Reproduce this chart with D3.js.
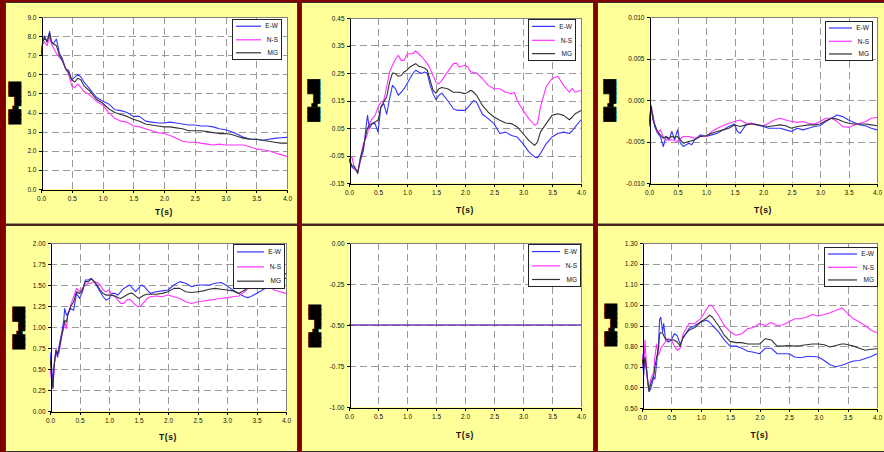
<!DOCTYPE html>
<html><head><meta charset="utf-8">
<script src="https://cdn.jsdelivr.net/npm/d3@7"></script>
<style>html,body{margin:0;padding:0;background:#800000;} svg{display:block}</style>
</head><body>
<svg id="c" width="884" height="452"></svg>
<script>
// ---------- data ----------
const xTicks = [0,0.5,1,1.5,2,2.5,3,3.5,4];
const seriesNames = ["E-W","N-S","MG"];
const xTitle = "T(s)";
const yLabelText = "███▪▄▄███";

const yTicks1 = [0,1,2,3,4,5,6,7,8,9];
const t1 = [0,0.03,0.06,0.1,0.14,0.17,0.2,0.25,0.3,0.35,0.4,0.45,0.5,0.55,0.6,0.65,0.7,0.8,0.9,1.0,1.1,1.2,1.3,1.4,1.5,1.6,1.7,1.8,1.9,2.0,2.1,2.2,2.3,2.4,2.5,2.6,2.7,2.8,2.9,3.0,3.1,3.2,3.3,3.4,3.5,3.6,3.7,3.8,3.9,4.0];
const ew1 = [7.0,7.8,8.0,7.7,8.25,7.7,7.6,7.85,7.1,6.8,6.3,6.2,5.7,5.85,6.0,5.85,5.6,5.2,4.8,4.6,4.45,4.15,4.1,4.0,3.8,3.8,3.55,3.5,3.45,3.45,3.5,3.45,3.4,3.35,3.35,3.3,3.3,3.25,3.15,3.1,3.0,2.85,2.7,2.62,2.6,2.55,2.6,2.65,2.68,2.7];
const ns1 = [7.0,7.6,7.7,7.5,8.0,7.6,7.4,7.1,6.9,6.7,6.3,6.0,5.4,5.3,5.5,5.3,5.1,4.9,4.6,4.4,4.0,3.7,3.55,3.5,3.3,3.25,3.15,3.05,2.95,2.9,2.8,2.65,2.5,2.45,2.45,2.4,2.35,2.3,2.35,2.3,2.3,2.3,2.3,2.2,2.1,2.05,2.0,1.9,1.8,1.7];
const mg1 = [7.0,7.7,7.9,7.7,8.15,7.7,7.6,7.5,7.0,6.7,6.3,6.1,5.7,5.6,5.8,5.7,5.4,5.1,4.7,4.5,4.2,4.0,3.9,3.8,3.65,3.55,3.4,3.35,3.3,3.25,3.25,3.2,3.15,3.05,3.05,3.05,3.0,2.95,2.9,2.9,2.85,2.75,2.65,2.6,2.6,2.55,2.5,2.45,2.4,2.4];

const yTicks2 = [-0.15,-0.05,0.05,0.15,0.25,0.35,0.45];
const t2 = [0,0.05,0.1,0.15,0.2,0.25,0.3,0.32,0.35,0.4,0.45,0.5,0.55,0.6,0.65,0.7,0.75,0.8,0.85,0.9,0.95,1.0,1.05,1.1,1.15,1.2,1.25,1.3,1.35,1.4,1.45,1.5,1.55,1.6,1.7,1.8,1.85,1.9,2.0,2.05,2.1,2.15,2.2,2.3,2.4,2.5,2.6,2.7,2.8,2.85,2.9,3.0,3.1,3.2,3.25,3.3,3.4,3.5,3.6,3.7,3.8,3.85,3.9,4.0];
const ew2 = [-0.067,-0.092,-0.10,-0.11,-0.067,-0.03,0.066,0.096,0.047,0.066,0.066,0.035,0.126,0.138,0.10,0.157,0.205,0.193,0.169,0.18,0.193,0.211,0.23,0.248,0.26,0.254,0.248,0.254,0.248,0.205,0.175,0.153,0.169,0.177,0.15,0.12,0.115,0.114,0.114,0.125,0.138,0.15,0.144,0.10,0.084,0.066,0.03,0.035,0.023,0.02,0.017,-0.007,-0.037,-0.055,-0.058,-0.043,-0.007,0.017,0.03,0.035,0.03,0.04,0.054,0.08];
const ns2 = [-0.065,-0.055,-0.10,-0.11,-0.055,-0.005,0.017,0.03,0.066,0.084,0.096,0.126,0.145,0.15,0.20,0.254,0.278,0.30,0.314,0.296,0.296,0.318,0.32,0.32,0.33,0.32,0.31,0.298,0.284,0.266,0.24,0.217,0.21,0.223,0.254,0.284,0.286,0.272,0.278,0.272,0.254,0.252,0.25,0.23,0.205,0.193,0.193,0.18,0.175,0.18,0.15,0.114,0.084,0.06,0.066,0.126,0.20,0.23,0.238,0.205,0.18,0.193,0.18,0.187];
const mg2 = [-0.062,-0.086,-0.092,-0.116,-0.055,-0.019,0.035,0.05,0.06,0.066,0.072,0.078,0.126,0.145,0.163,0.217,0.25,0.248,0.238,0.241,0.254,0.26,0.272,0.278,0.284,0.275,0.272,0.268,0.26,0.223,0.187,0.177,0.193,0.197,0.193,0.18,0.18,0.18,0.175,0.18,0.187,0.18,0.169,0.132,0.108,0.09,0.078,0.068,0.066,0.06,0.054,0.03,0.005,-0.013,-0.001,0.035,0.066,0.096,0.102,0.096,0.08,0.09,0.102,0.114];

const yTicks3 = [-0.01,-0.005,0,0.005,0.01];
const t3 = [0,0.04,0.07,0.1,0.15,0.2,0.25,0.3,0.35,0.4,0.45,0.5,0.55,0.6,0.7,0.75,0.8,0.9,1.0,1.1,1.2,1.3,1.4,1.5,1.55,1.6,1.7,1.8,1.9,2.0,2.1,2.2,2.3,2.4,2.5,2.6,2.7,2.8,2.9,3.0,3.1,3.2,3.3,3.4,3.5,3.6,3.7,3.8,3.9,4.0];
const ew3 = [-0.0032,-0.0012,-0.0018,-0.0032,-0.004,-0.0044,-0.0056,-0.0044,-0.0048,-0.0038,-0.0048,-0.0036,-0.0052,-0.0056,-0.0052,-0.0054,-0.0048,-0.0042,-0.0044,-0.0042,-0.004,-0.0036,-0.0032,-0.0029,-0.0038,-0.004,-0.003,-0.0028,-0.003,-0.0032,-0.0034,-0.0034,-0.0034,-0.0036,-0.0038,-0.0034,-0.0036,-0.0034,-0.0032,-0.0031,-0.0026,-0.0022,-0.0018,-0.002,-0.0024,-0.0027,-0.003,-0.0031,-0.0034,-0.0036];
const ns3 = [-0.0024,-0.0006,-0.0024,-0.0028,-0.004,-0.0036,-0.0044,-0.0048,-0.0048,-0.0048,-0.0049,-0.005,-0.0047,-0.0044,-0.0044,-0.0045,-0.0046,-0.0044,-0.0044,-0.0038,-0.0034,-0.0031,-0.0028,-0.0026,-0.0025,-0.0024,-0.0028,-0.0028,-0.003,-0.0031,-0.0028,-0.0024,-0.0022,-0.0024,-0.0026,-0.0027,-0.0026,-0.0028,-0.0029,-0.0026,-0.0022,-0.0022,-0.0026,-0.0032,-0.0033,-0.003,-0.0028,-0.0026,-0.0022,-0.0021];
const mg3 = [-0.0028,-0.0008,-0.0024,-0.003,-0.0038,-0.0042,-0.0046,-0.0044,-0.0046,-0.0044,-0.0045,-0.0044,-0.0048,-0.0052,-0.005,-0.0049,-0.0048,-0.0044,-0.0043,-0.004,-0.0038,-0.0036,-0.0034,-0.003,-0.0031,-0.0032,-0.003,-0.0029,-0.003,-0.0031,-0.0032,-0.0031,-0.003,-0.0031,-0.0034,-0.0032,-0.0031,-0.003,-0.003,-0.0029,-0.0025,-0.0022,-0.0023,-0.0026,-0.0028,-0.0029,-0.0029,-0.0029,-0.003,-0.0031];

const yTicks4 = [0,0.25,0.5,0.75,1,1.25,1.5,1.75,2];
const t4 = [0,0.03,0.05,0.07,0.1,0.13,0.15,0.2,0.23,0.25,0.28,0.3,0.35,0.4,0.45,0.5,0.55,0.6,0.65,0.7,0.75,0.8,0.85,0.9,0.95,1.0,1.05,1.1,1.15,1.2,1.25,1.3,1.35,1.4,1.45,1.5,1.55,1.6,1.65,1.7,1.8,1.9,2.0,2.1,2.2,2.3,2.4,2.5,2.6,2.7,2.8,2.9,3.0,3.1,3.2,3.3,3.35,3.4,3.5,3.6,3.7,3.8,3.9,4.0];
const ew4 = [0.70,0.50,0.35,0.54,0.70,0.64,0.76,0.94,1.06,1.22,1.14,1.16,1.22,1.20,1.40,1.34,1.42,1.56,1.56,1.58,1.54,1.48,1.42,1.36,1.32,1.34,1.40,1.40,1.38,1.42,1.46,1.48,1.50,1.46,1.42,1.46,1.50,1.48,1.44,1.40,1.42,1.43,1.44,1.50,1.54,1.52,1.48,1.50,1.50,1.50,1.52,1.53,1.49,1.44,1.40,1.36,1.35,1.36,1.40,1.44,1.48,1.52,1.58,1.64];
const ns4 = [0.50,0.35,0.27,0.54,0.74,0.70,0.68,0.90,0.98,1.06,0.98,1.14,1.26,1.36,1.46,1.42,1.46,1.50,1.52,1.52,1.54,1.53,1.50,1.44,1.42,1.44,1.38,1.36,1.32,1.28,1.28,1.32,1.33,1.30,1.26,1.24,1.26,1.30,1.34,1.36,1.37,1.36,1.38,1.36,1.34,1.30,1.28,1.30,1.31,1.32,1.33,1.34,1.35,1.36,1.37,1.42,1.45,1.48,1.52,1.54,1.50,1.44,1.42,1.40];
const mg4 = [0.62,0.42,0.27,0.54,0.72,0.68,0.72,0.90,1.00,1.08,1.06,1.14,1.24,1.30,1.42,1.40,1.44,1.54,1.54,1.57,1.54,1.50,1.44,1.40,1.38,1.38,1.38,1.37,1.35,1.34,1.36,1.38,1.40,1.40,1.37,1.34,1.36,1.38,1.39,1.39,1.39,1.40,1.42,1.46,1.46,1.42,1.41,1.42,1.43,1.45,1.46,1.45,1.44,1.43,1.40,1.44,1.47,1.49,1.52,1.53,1.54,1.54,1.56,1.58];

const yTicks5 = [-1,-0.75,-0.5,-0.25,0];
const t5 = [0,4];
const ew5 = [-0.5,-0.5];
const ns5 = [-0.5,-0.5];
const mg5 = [-0.5,-0.5];

const yTicks6 = [0.5,0.6,0.7,0.8,0.9,1.0,1.1,1.2,1.3];
const t6 = [0,0.03,0.05,0.08,0.1,0.12,0.15,0.2,0.22,0.25,0.28,0.3,0.32,0.35,0.37,0.4,0.45,0.5,0.55,0.6,0.65,0.7,0.8,0.9,1.0,1.1,1.15,1.2,1.3,1.4,1.5,1.6,1.7,1.8,1.9,2.0,2.1,2.2,2.3,2.4,2.5,2.6,2.7,2.8,2.9,3.0,3.1,3.2,3.3,3.4,3.45,3.5,3.6,3.7,3.8,3.9,4.0];
const ew6 = [0.763,0.66,0.74,0.675,0.626,0.58,0.594,0.65,0.64,0.72,0.80,0.93,0.94,0.87,0.91,0.83,0.82,0.83,0.86,0.85,0.81,0.84,0.885,0.90,0.917,0.925,0.917,0.90,0.87,0.83,0.80,0.80,0.79,0.775,0.77,0.763,0.79,0.79,0.763,0.763,0.763,0.747,0.744,0.75,0.75,0.747,0.73,0.71,0.70,0.707,0.712,0.718,0.728,0.73,0.74,0.75,0.763];
const ns6 = [0.755,0.69,0.83,0.69,0.61,0.594,0.64,0.675,0.75,0.81,0.755,0.77,0.79,0.80,0.81,0.82,0.836,0.83,0.80,0.78,0.79,0.86,0.91,0.91,0.933,0.98,0.998,0.993,0.95,0.90,0.87,0.853,0.86,0.885,0.89,0.91,0.90,0.914,0.90,0.904,0.917,0.933,0.933,0.94,0.953,0.946,0.953,0.962,0.973,0.985,0.973,0.957,0.933,0.917,0.90,0.877,0.865];
const mg6 = [0.74,0.70,0.747,0.68,0.626,0.58,0.618,0.658,0.70,0.747,0.79,0.86,0.865,0.865,0.85,0.836,0.83,0.83,0.83,0.82,0.80,0.845,0.877,0.89,0.917,0.936,0.95,0.94,0.90,0.853,0.823,0.817,0.817,0.81,0.81,0.81,0.836,0.83,0.80,0.80,0.803,0.80,0.803,0.807,0.81,0.81,0.807,0.796,0.803,0.81,0.81,0.807,0.80,0.79,0.78,0.785,0.787];

// ---------- layout / style ----------
const colors = ["#3434ff","#ff33ff","#333333"];
const panels = [
  {t:t1, s:[ew1,ns1,mg1], dom:[0,9], ticks:yTicks1, fmt:".1f", box:[5.5,2.5,297.5,224], plot:[41,17,287,189], titleY:215, leg:[232,19,49,40], ylab:[14.5,103]},
  {t:t2, s:[ew2,ns2,mg2], dom:[-0.15,0.45], ticks:yTicks2, fmt:".2f", box:[301.5,2.5,593.5,224], plot:[349,18,581,183], titleY:212.5, leg:[528,19,47,41], ylab:[313.5,100.5]},
  {t:t3, s:[ew3,ns3,mg3], dom:[-0.01,0.01], ticks:yTicks3, fmt:".3f", box:[597.5,2.5,885,224], plot:[649,17,877,183], titleY:212.5, leg:[825,21,47,39], ylab:[609.5,100.5]},
  {t:t4, s:[ew4,ns4,mg4], dom:[0,2], ticks:yTicks4, fmt:".2f", box:[5.5,225.5,297.5,451.5], plot:[50,243,286,411], titleY:439.5, leg:[233,244,51,44], ylab:[18,328]},
  {t:t5, s:[ew5,ns5,mg5], dom:[-1,0], ticks:yTicks5, fmt:".2f", box:[301.5,225.5,593.5,451.5], plot:[349,243,581,407], titleY:437.5, leg:[528,244,52,42], ylab:[314,326]},
  {t:t6, s:[ew6,ns6,mg6], dom:[0.5,1.3], ticks:yTicks6, fmt:".2f", box:[597.5,225.5,885,451.5], plot:[642,243,877,408], titleY:437.5, leg:[824,247,53,39], ylab:[610,325]}
];

const loc = d3.formatLocale({decimal:".", thousands:",", grouping:[3], currency:["",""], minus:"-"});
const svg = d3.select("#c");
svg.append("rect").attr("width",884).attr("height",452).attr("fill","#800000");

panels.forEach((p,pi) => {
  const g = svg.append("g");
  const [bx0,by0,bx1,by1] = p.box;
  g.append("rect").attr("x",bx0).attr("y",by0).attr("width",bx1-bx0).attr("height",by1-by0)
    .attr("fill","#ffff99").attr("stroke","#333").attr("stroke-width",1);
  const [L,T,R,B] = p.plot;
  const x = d3.scaleLinear().domain([0,4]).range([L,R]);
  const y = d3.scaleLinear().domain(p.dom).range([B,T]);
  g.append("rect").attr("x",L).attr("y",T).attr("width",R-L).attr("height",B-T).attr("fill","#fff");
  // grid
  const gg = g.append("g").attr("shape-rendering","crispEdges").attr("stroke","#9a9a9a").attr("stroke-dasharray","7,4");
  p.ticks.slice(1,-1).forEach(v => gg.append("line").attr("x1",L).attr("x2",R).attr("y1",Math.round(y(v))+0.5).attr("y2",Math.round(y(v))+0.5));
  xTicks.slice(1,-1).forEach(v => gg.append("line").attr("y1",T).attr("y2",B).attr("x1",Math.round(x(v))+0.5).attr("x2",Math.round(x(v))+0.5));
  // border top/right
  g.append("path").attr("d",`M${L},${T+0.5}H${R+0.5}V${B}`).attr("fill","none").attr("stroke","#808080").attr("shape-rendering","crispEdges");
  // series
  const clipId = "clip"+pi;
  g.append("clipPath").attr("id",clipId).append("rect").attr("x",L).attr("y",T-1).attr("width",R-L+1).attr("height",B-T+2);
  const line = d3.line().x(d=>x(d[0])).y(d=>y(d[1]));
  const order = pi===4 ? [2,1,0] : [0,1,2];
  order.forEach(si => {
    const vals = p.s[si];
    const pts = p.t.map((tt,i)=>[tt, vals[i]]);
    g.append("path").attr("d",line(pts)).attr("fill","none").attr("stroke",colors[si])
      .attr("stroke-width",1.1).attr("stroke-linejoin","round").attr("clip-path",`url(#${clipId})`)
      .attr("stroke-opacity", pi===4 && si<2 ? 0.5 : 1);
  });
  // axes
  const fmt = loc.format(p.fmt);
  const ax = g.append("g").attr("transform",`translate(0,${B+0.5})`)
    .call(d3.axisBottom(x).tickValues(xTicks).tickFormat(loc.format(".1f")).tickSize(3).tickSizeOuter(0).tickPadding(4));
  const ay = g.append("g").attr("transform",`translate(${L+0.5},0)`)
    .call(d3.axisLeft(y).tickValues(p.ticks).tickFormat(fmt).tickSize(3).tickSizeOuter(0).tickPadding(2));
  [ax,ay].forEach(a => {
    a.selectAll("path,line").attr("stroke","#000").attr("shape-rendering","crispEdges");
    a.selectAll("text").attr("fill","#111").style("font-family","Liberation Sans, Arial, sans-serif").style("font-size","6.5px");
  });
  // x title
  g.append("text").attr("x",(L+R)/2).attr("y",p.titleY).attr("text-anchor","middle")
    .style("font-family","Liberation Sans, Arial, sans-serif").style("font-size","8.5px").style("font-weight","bold")
    .style("letter-spacing","0.6px").attr("fill","#111").text(xTitle);
  // y label (glyph blob)
  g.append("text").attr("transform",`translate(${p.ylab[0]},${p.ylab[1]}) rotate(-90)`).attr("text-anchor","middle")
    .attr("dy","0.35em").style("font-family","DejaVu Sans").style("font-size","10px")
    .attr("textLength",42).attr("lengthAdjust","spacingAndGlyphs").attr("fill","#000")
    .attr("stroke","#000").attr("stroke-width",1.2).attr("stroke-linejoin","miter").text(yLabelText);
  // legend
  const [lx,ly,lw,lh] = p.leg;
  const lg = g.append("g");
  lg.append("rect").attr("x",lx+0.5).attr("y",ly+0.5).attr("width",lw).attr("height",lh)
    .attr("fill","#fff").attr("stroke","#222").attr("shape-rendering","crispEdges");
  seriesNames.forEach((nm,i) => {
    const yy = ly + lh*[0.18,0.52,0.845][i];
    lg.append("line").attr("x1",lx+4).attr("x2",lx+lw-20).attr("y1",yy).attr("y2",yy).attr("stroke",colors[i]).attr("stroke-width",1.2);
    lg.append("text").attr("x",lx+lw-3).attr("y",yy).attr("dy","0.35em").attr("text-anchor","end")
      .style("font-family","Liberation Sans, Arial, sans-serif").style("font-size","6.5px").attr("fill","#111").text(nm);
  });
});
</script>
</body></html>
